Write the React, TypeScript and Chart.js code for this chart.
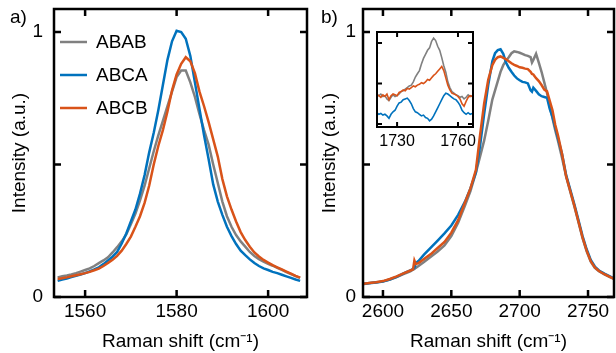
import React, { useEffect, useRef } from 'react';
import { Chart, registerables } from 'chart.js';

Chart.register(...registerables);

const FONT = "'Liberation Sans', Arial, Helvetica, sans-serif";
const GRAY = '#808080';
const BLUE = '#0072BD';
const ORANGE = '#D95319';

const SERIES_NAMES = ['ABAB', 'ABCA', 'ABCB'];
const SERIES_COLORS = [GRAY, BLUE, ORANGE];

// ---------- Panel a: G band ----------
const G_SHIFT = [
  1554, 1555, 1556, 1557, 1558, 1559, 1560, 1561, 1562, 1563,
  1564, 1565, 1566, 1567, 1568, 1569, 1570, 1571, 1572, 1573,
  1574, 1575, 1576, 1577, 1578, 1579, 1580, 1581, 1582, 1583,
  1584, 1585, 1586, 1587, 1588, 1589, 1590, 1591, 1592, 1593,
  1594, 1595, 1596, 1597, 1598, 1599, 1600, 1601, 1602, 1603,
  1604, 1605, 1606, 1607,
];
const G_ABAB = [
  0.074, 0.078, 0.081, 0.085, 0.090, 0.096, 0.102, 0.108, 0.117, 0.128,
  0.138, 0.150, 0.168, 0.188, 0.210, 0.236, 0.275, 0.315, 0.365, 0.420,
  0.485, 0.550, 0.610, 0.665, 0.720, 0.775, 0.830, 0.855, 0.855, 0.810,
  0.755, 0.690, 0.630, 0.575, 0.500, 0.430, 0.360, 0.305, 0.265, 0.234,
  0.210, 0.190, 0.170, 0.155, 0.143, 0.133, 0.125, 0.118, 0.110, 0.102,
  0.094, 0.086, 0.079, 0.072,
];
const G_ABCA = [
  0.061, 0.066, 0.070, 0.075, 0.080, 0.085, 0.090, 0.097, 0.104, 0.112,
  0.124, 0.138, 0.152, 0.170, 0.202, 0.240, 0.285, 0.330, 0.390, 0.460,
  0.545, 0.620, 0.705, 0.800, 0.895, 0.965, 1.005, 1.000, 0.975, 0.910,
  0.810, 0.710, 0.610, 0.520, 0.425, 0.360, 0.310, 0.265, 0.230, 0.200,
  0.175, 0.158, 0.142, 0.128, 0.117, 0.108, 0.102, 0.095, 0.090, 0.084,
  0.078, 0.072, 0.066, 0.061,
];
const G_ABCB = [
  0.068, 0.071, 0.074, 0.078, 0.082, 0.086, 0.090, 0.095, 0.101, 0.107,
  0.117, 0.128, 0.141, 0.155, 0.175, 0.200, 0.228, 0.265, 0.305, 0.355,
  0.420, 0.500, 0.570, 0.630, 0.700, 0.780, 0.840, 0.880, 0.905, 0.890,
  0.845, 0.775, 0.720, 0.660, 0.595, 0.530, 0.445, 0.380, 0.330, 0.285,
  0.245, 0.215, 0.190, 0.168, 0.153, 0.140, 0.130, 0.120, 0.112, 0.104,
  0.096, 0.088, 0.080, 0.073,
];
const G_X_TICKS = [1560, 1580, 1600];

// ---------- Panel b: 2D band ----------
const D_SHIFT = [
  2586, 2590, 2595, 2600, 2605, 2610, 2615, 2620, 2622, 2623, 2624,
  2626, 2630, 2635, 2640, 2645, 2650, 2655, 2660, 2664, 2668,
  2671, 2674, 2677, 2680, 2682, 2684, 2686, 2688, 2690, 2692,
  2694, 2696, 2698, 2700, 2702, 2704, 2706, 2708, 2709, 2710,
  2712, 2714, 2716, 2718, 2720, 2722, 2724, 2726, 2728, 2731,
  2734, 2737, 2740, 2743, 2746, 2749, 2752, 2755, 2758, 2762,
  2766, 2770,
];
const D_ABAB = [
  0.050, 0.053, 0.056, 0.059, 0.066, 0.075, 0.086, 0.097, 0.103, 0.106, 0.110,
  0.117, 0.132, 0.152, 0.172, 0.195, 0.230, 0.280, 0.345, 0.400, 0.470,
  0.530, 0.590, 0.665, 0.745, 0.780, 0.815, 0.850, 0.875, 0.892, 0.905,
  0.920, 0.927, 0.925, 0.922, 0.918, 0.913, 0.910, 0.905, 0.885, 0.895,
  0.918, 0.885, 0.850, 0.810, 0.770, 0.720, 0.675, 0.630, 0.590, 0.525,
  0.455, 0.398, 0.342, 0.282, 0.222, 0.172, 0.133, 0.110, 0.097, 0.085,
  0.075, 0.066,
];
const D_ABCA = [
  0.049, 0.052, 0.055, 0.058, 0.066, 0.076, 0.089, 0.100, 0.106, 0.110, 0.128,
  0.136, 0.160, 0.186, 0.213, 0.240, 0.270, 0.310, 0.360, 0.410, 0.470,
  0.570, 0.690, 0.800, 0.890, 0.920, 0.932, 0.935, 0.918, 0.885, 0.865,
  0.850, 0.836, 0.825, 0.818, 0.812, 0.810, 0.806, 0.780, 0.775, 0.790,
  0.778, 0.765, 0.758, 0.755, 0.752, 0.710, 0.680, 0.640, 0.600, 0.540,
  0.460, 0.405, 0.350, 0.290, 0.230, 0.180, 0.140, 0.115, 0.100, 0.088,
  0.078, 0.068,
];
const D_ABCB = [
  0.050, 0.053, 0.056, 0.060, 0.068, 0.078, 0.089, 0.100, 0.104, 0.138, 0.125,
  0.128, 0.143, 0.162, 0.185, 0.208, 0.243, 0.290, 0.357, 0.410, 0.480,
  0.610, 0.730, 0.820, 0.875, 0.895, 0.905, 0.908, 0.903, 0.897, 0.890,
  0.882, 0.876, 0.872, 0.867, 0.865, 0.862, 0.860, 0.850, 0.842, 0.840,
  0.826, 0.815, 0.800, 0.783, 0.776, 0.740, 0.705, 0.650, 0.610, 0.540,
  0.455, 0.400, 0.345, 0.285, 0.225, 0.175, 0.135, 0.112, 0.098, 0.086,
  0.076, 0.066,
];
const D_X_TICKS = [2600, 2650, 2700, 2750];

// ---------- Inset ----------
const I_SHIFT = [
  1720, 1721, 1722, 1723, 1724, 1725, 1726, 1727, 1728, 1729,
  1730, 1731, 1732, 1733, 1734, 1735, 1736, 1737, 1738, 1739,
  1740, 1741, 1742, 1743, 1744, 1745, 1746, 1747, 1748, 1749,
  1750, 1751, 1752, 1753, 1754, 1755, 1756, 1757, 1758, 1759,
  1760, 1761, 1762, 1763, 1764, 1765, 1766, 1767,
];
const I_ABAB = [
  0.36, 0.35, 0.37, 0.34, 0.35, 0.31, 0.29, 0.33, 0.36, 0.34,
  0.35, 0.37, 0.40, 0.41, 0.43, 0.45, 0.47, 0.48, 0.52, 0.58,
  0.62, 0.66, 0.74, 0.81, 0.86, 0.91, 0.94, 1.02, 1.06, 1.03,
  0.96, 0.91, 0.82, 0.72, 0.64, 0.52, 0.45, 0.40, 0.38, 0.36,
  0.35, 0.33, 0.34, 0.31, 0.33, 0.36, 0.34, 0.35,
];
const I_ABCA = [
  0.14, 0.12, 0.13, 0.11, 0.12, 0.10, 0.07, 0.12, 0.15, 0.17,
  0.22, 0.26, 0.27, 0.30, 0.31, 0.32, 0.29, 0.25, 0.19, 0.15,
  0.14, 0.12, 0.10, 0.11, 0.08, 0.07, 0.04, 0.06, 0.10, 0.15,
  0.20, 0.25, 0.30, 0.35, 0.38, 0.37, 0.35, 0.33, 0.31, 0.30,
  0.27, 0.23, 0.17, 0.14, 0.12, 0.14, 0.12, 0.13,
];
const I_ABCB = [
  0.36, 0.35, 0.33, 0.36, 0.34, 0.37, 0.30, 0.35, 0.37, 0.36,
  0.35, 0.39, 0.40, 0.42, 0.41, 0.44, 0.43, 0.45, 0.47, 0.46,
  0.48, 0.49, 0.51, 0.50, 0.52, 0.55, 0.54, 0.57, 0.60, 0.62,
  0.65, 0.68, 0.71, 0.66, 0.57, 0.48, 0.42, 0.38, 0.37, 0.36,
  0.34, 0.31, 0.25, 0.22, 0.28, 0.33, 0.35, 0.34,
];
const I_X_TICKS = [1730, 1760];

const Y_TICKS = [0, 0.5, 1];
const Y_TICK_LABELS = ['0', '', '1'];

const X_TITLE = 'Raman shift (cm\u207B\u00B9)';
const Y_TITLE = 'Intensity (a.u.)';

type Opts = {
  xs: number[];
  series: number[][];
  xMin: number; xMax: number; yMin: number; yMax: number;
  xTicks: number[]; yTicks: number[]; yLabels: string[];
  yAxisWidth: number; xAxisHeight: number;
  padding: { top: number; right: number; left: number; bottom: number };
  fontSize: number; lineWidth: number; tickLen: number; frameWidth: number;
  xPad: number; yPad: number;
  titles: boolean;
  plugins: any[];
  whiteArea?: boolean;
};

function framePlugin(tickLen: number, lw: number, whiteArea: boolean) {
  return {
    id: 'frameTicks',
    beforeDraw(chart: any) {
      if (!whiteArea) return;
      const { ctx, chartArea: a } = chart;
      ctx.save();
      ctx.fillStyle = '#ffffff';
      ctx.fillRect(a.left, a.top, a.right - a.left, a.bottom - a.top);
      ctx.restore();
    },
    afterDraw(chart: any) {
      const { ctx, chartArea: a, scales } = chart;
      const x = scales.x;
      const y = scales.y;
      ctx.save();
      ctx.strokeStyle = '#000';
      ctx.lineWidth = lw;
      ctx.beginPath();
      for (const t of x.ticks) {
        const px = x.getPixelForValue(t.value);
        ctx.moveTo(px, a.bottom);
        ctx.lineTo(px, a.bottom - tickLen);
        ctx.moveTo(px, a.top);
        ctx.lineTo(px, a.top + tickLen);
      }
      for (const t of y.ticks) {
        const py = y.getPixelForValue(t.value);
        ctx.moveTo(a.left, py);
        ctx.lineTo(a.left + tickLen, py);
        ctx.moveTo(a.right, py);
        ctx.lineTo(a.right - tickLen, py);
      }
      ctx.stroke();
      ctx.strokeRect(a.left, a.top, a.right - a.left, a.bottom - a.top);
      ctx.restore();
    },
  };
}

function textPlugin(id: string, text: string, x: number, y: number) {
  return {
    id,
    afterDraw(chart: any) {
      const { ctx } = chart;
      ctx.save();
      ctx.font = `19px ${FONT}`;
      ctx.fillStyle = '#000';
      ctx.textAlign = 'left';
      ctx.textBaseline = 'alphabetic';
      ctx.fillText(text, x, y);
      ctx.restore();
    },
  };
}

const legendPlugin = {
  id: 'insideLegend',
  afterDraw(chart: any) {
    const { ctx } = chart;
    const rows = [42, 75, 108];
    ctx.save();
    ctx.font = `19px ${FONT}`;
    ctx.textBaseline = 'middle';
    ctx.textAlign = 'left';
    SERIES_NAMES.forEach((name, i) => {
      const ds = chart.data.datasets.find((d: any) => d.label === name);
      ctx.strokeStyle = ds.borderColor;
      ctx.lineWidth = 2.5;
      ctx.beginPath();
      ctx.moveTo(60, rows[i]);
      ctx.lineTo(87, rows[i]);
      ctx.stroke();
      ctx.fillStyle = '#000';
      ctx.fillText(name, 96, rows[i] + 1);
    });
    ctx.restore();
  },
};

function zeroPad(s: any) {
  s.paddingTop = 0;
  s.paddingBottom = 0;
  s.paddingLeft = 0;
  s.paddingRight = 0;
}

function buildConfig(o: Opts): any {
  const datasets = o.series.map((vals, i) => ({
    label: SERIES_NAMES[i],
    data: o.xs.map((x, j) => ({ x, y: vals[j] })),
    borderColor: SERIES_COLORS[i],
    backgroundColor: SERIES_COLORS[i],
    borderWidth: o.lineWidth,
    pointRadius: 0,
    tension: 0,
    fill: false,
    order: 3 - i,
  }));
  const tickFont = { family: FONT, size: o.fontSize };
  return {
    type: 'line',
    data: { datasets },
    options: {
      responsive: false,
      animation: false,
      devicePixelRatio: 1,
      events: [],
      layout: { padding: o.padding },
      plugins: { legend: { display: false }, tooltip: { enabled: false } },
      scales: {
        x: {
          type: 'linear',
          min: o.xMin,
          max: o.xMax,
          afterBuildTicks: (s: any) => { s.ticks = o.xTicks.map((v) => ({ value: v })); },
          afterFit: (s: any) => { s.height = o.xAxisHeight; zeroPad(s); },
          grid: { display: false, drawTicks: false },
          border: { display: false },
          ticks: {
            autoSkip: false, maxRotation: 0, minRotation: 0,
            padding: o.xPad, color: '#000', font: tickFont,
            callback: (v: any) => String(v),
          },
          title: {
            display: o.titles, text: X_TITLE, color: '#000',
            font: { family: FONT, size: 19 }, padding: { top: 0, bottom: 0 },
          },
        },
        y: {
          type: 'linear',
          min: o.yMin,
          max: o.yMax,
          afterBuildTicks: (s: any) => { s.ticks = o.yTicks.map((v) => ({ value: v })); },
          afterFit: (s: any) => { s.width = o.yAxisWidth; zeroPad(s); },
          grid: { display: false, drawTicks: false },
          border: { display: false },
          ticks: {
            autoSkip: false, padding: o.yPad, color: '#000', font: tickFont,
            callback: (v: any) => {
              const k = o.yTicks.indexOf(v);
              return k >= 0 ? o.yLabels[k] : '';
            },
          },
          title: {
            display: o.titles, text: Y_TITLE, color: '#000',
            font: { family: FONT, size: 19 }, padding: { top: 8, bottom: 0 },
          },
        },
      },
    },
    plugins: [framePlugin(o.tickLen, o.frameWidth, !!o.whiteArea), ...o.plugins],
  };
}

function ChartBox(props: { left: number; top: number; width: number; height: number; build: () => any }) {
  const ref = useRef<HTMLCanvasElement | null>(null);
  useEffect(() => {
    const chart = new Chart(ref.current as HTMLCanvasElement, props.build());
    return () => chart.destroy();
  }, []);
  return (
    <canvas
      ref={ref}
      width={props.width}
      height={props.height}
      style={{ position: 'absolute', left: props.left, top: props.top, width: props.width, height: props.height }}
    />
  );
}

const Y_MIN = 0;
const Y_MAX = 1.087;

export default function App() {
  const buildA = () =>
    buildConfig({
      xs: G_SHIFT, series: [G_ABAB, G_ABCA, G_ABCB],
      xMin: 1553.2, xMax: 1608.5, yMin: Y_MIN, yMax: Y_MAX,
      xTicks: G_X_TICKS, yTicks: Y_TICKS, yLabels: Y_TICK_LABELS,
      yAxisWidth: 54, xAxisHeight: 56,
      padding: { top: 9, right: 3, left: 0, bottom: 0 },
      fontSize: 19, lineWidth: 2.5, tickLen: 7, frameWidth: 2.5,
      xPad: 3, yPad: 11, titles: true,
      plugins: [legendPlugin, textPlugin('panelA', 'a)', 10, 23)],
    });
  const buildB = () =>
    buildConfig({
      xs: D_SHIFT, series: [D_ABAB, D_ABCA, D_ABCB],
      xMin: 2585.4, xMax: 2769, yMin: Y_MIN, yMax: Y_MAX,
      xTicks: D_X_TICKS, yTicks: Y_TICKS, yLabels: Y_TICK_LABELS,
      yAxisWidth: 53, xAxisHeight: 56,
      padding: { top: 9, right: 2, left: 0, bottom: 0 },
      fontSize: 19, lineWidth: 2.5, tickLen: 7, frameWidth: 2.5,
      xPad: 3, yPad: 7, titles: true,
      plugins: [textPlugin('panelB', 'b)', 11, 23)],
    });
  const buildInset = () =>
    buildConfig({
      xs: I_SHIFT, series: [I_ABAB, I_ABCA, I_ABCB],
      xMin: 1720.1, xMax: 1767.4, yMin: -0.037, yMax: 1.136,
      xTicks: I_X_TICKS, yTicks: Y_TICKS, yLabels: ['', '', ''],
      yAxisWidth: 9, xAxisHeight: 27,
      padding: { top: 4, right: 7, left: 0, bottom: 0 },
      fontSize: 16, lineWidth: 1.6, tickLen: 5, frameWidth: 2,
      xPad: 5, yPad: 0, titles: false, whiteArea: true,
      plugins: [],
    });
  return (
    <div style={{ position: 'fixed', left: 0, top: 0, width: 616, height: 353, background: '#fff', overflow: 'hidden' }}>
      <ChartBox left={0} top={0} width={310} height={353} build={buildA} />
      <ChartBox left={310} top={0} width={306} height={353} build={buildB} />
      <ChartBox left={368} top={28} width={112} height={126} build={buildInset} />
    </div>
  );
}
